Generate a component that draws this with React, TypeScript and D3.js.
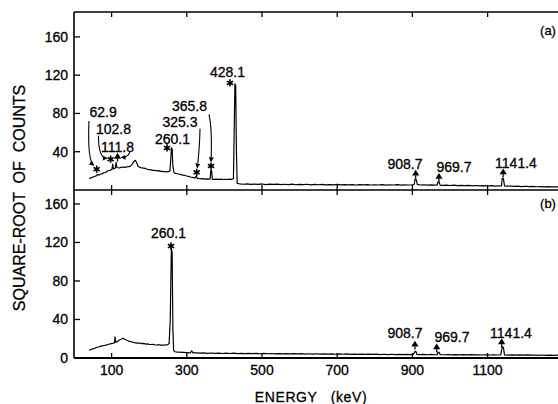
import React from "react";
import * as d3 from "d3";

const W = 558;
const H = 404;

// ---------- data ----------
const xTickValues = [100, 300, 500, 700, 900, 1100];
const yTickValuesA = [40, 80, 120, 160];
const yTickValuesB = [0, 40, 80, 120, 160];

// panel (a): [energy keV, sqrt(counts)]
const spectrumA: [number, number][] = [
  [40, 12], [45, 12.6], [50, 13.5], [55, 14.1], [60, 15], [63, 16.5], [66, 15.5], [70, 16.5], [75, 17.1], [80, 18],
  [85, 18.6], [90, 20], [95, 20.4], [98, 21], [101, 21.5], [103, 27], [105, 22], [108, 22.5], [110, 23], [112, 29],
  [114, 23.5], [120, 23], [125, 23.6], [130, 24], [135, 23.7], [140, 24.2], [145, 24.4], [150, 25], [155, 27], [160, 30],
  [163, 31], [166, 29], [170, 25], [175, 23.8], [180, 23], [185, 22.8], [190, 22.5], [195, 21.6], [200, 21.2], [205, 21],
  [210, 20.5], [215, 20.6], [220, 20], [225, 20.2], [230, 19.5], [235, 19.6], [240, 19], [245, 19.3], [250, 19], [255, 20],
  [257, 30], [259, 44], [261, 43], [263, 25], [266, 18], [270, 17.4], [275, 17], [280, 16.5], [285, 16], [290, 15.5],
  [295, 15.2], [300, 14.6], [305, 14.2], [310, 13.6], [315, 13.2], [318, 13], [322, 12.5], [325, 14.5], [328, 12.2], [332, 12],
  [338, 11.7], [345, 11.8], [350, 11.4], [355, 11.6], [360, 11.3], [362, 11.5], [364, 21], [366, 20], [368, 11.3], [372, 11.2],
  [378, 11.4], [384, 11.1], [390, 11.3], [396, 11], [402, 11.2], [408, 11], [414, 11.3], [420, 11.2], [424, 12], [426, 60],
  [428, 111], [430, 109], [432, 40], [434, 7], [440, 6.5], [450, 6.0], [460, 6.4], [470, 5.8], [480, 6.2], [490, 5.9],
  [500, 6.3], [510, 5.7], [520, 6.1], [530, 5.8], [540, 6.2], [550, 5.6], [560, 6.0], [570, 5.7], [580, 6.1], [590, 5.5],
  [600, 5.9], [610, 5.6], [620, 6.0], [630, 5.4], [640, 5.8], [650, 5.5], [660, 5.9], [670, 5.3], [680, 5.7], [690, 5.4],
  [700, 5.8], [710, 5.3], [720, 5.7], [730, 5.4], [740, 5.6], [750, 5.2], [760, 5.6], [770, 5.3], [780, 5.7], [790, 5.2],
  [800, 5.5], [810, 5.2], [820, 5.6], [830, 5.1], [840, 5.5], [850, 5.2], [860, 5.6], [870, 5.1], [880, 5.4], [890, 5.2],
  [900, 5.4], [905, 6.0], [907, 11.5], [910, 11.0], [913, 5.8], [920, 5.2], [930, 5.5], [940, 5.0], [950, 5.3], [960, 5.0],
  [966, 5.2], [968, 8.5], [971, 8.0], [974, 5.0], [980, 4.8], [990, 5.1], [1000, 4.7], [1010, 5.0], [1020, 4.6], [1030, 4.9],
  [1040, 4.5], [1050, 4.8], [1060, 4.4], [1070, 4.7], [1080, 4.3], [1090, 4.6], [1100, 4.2], [1110, 4.5], [1120, 4.1], [1130, 4.4],
  [1137, 4.2], [1139, 12.5], [1142, 12.0], [1145, 4.3], [1150, 4.0], [1160, 4.2], [1170, 3.8], [1180, 4.0], [1190, 3.6], [1200, 3.9],
  [1210, 3.5], [1220, 3.8], [1230, 3.4], [1240, 3.6], [1250, 3.3], [1260, 3.5], [1270, 3.2], [1280, 3.4], [1290, 3.1], [1300, 3.3],
];

// panel (b)
const spectrumB: [number, number][] = [
  [40, 8], [45, 8.8], [50, 9.5], [55, 10.1], [60, 11], [65, 11.4], [70, 12], [75, 12.6], [80, 13], [85, 13.4],
  [90, 14], [95, 14.5], [100, 15], [105, 15.5], [108, 16], [109, 22], [111, 16.5], [115, 17], [120, 18.5], [125, 19.4],
  [128, 20], [131, 20.5], [135, 19.5], [140, 18.5], [145, 17.6], [150, 17], [155, 16.6], [160, 16], [165, 15.8], [170, 15.5],
  [175, 15.5], [180, 15], [185, 15.2], [190, 14.5], [195, 14.6], [200, 14.2], [205, 14], [210, 14.1], [215, 13.7], [220, 13.5],
  [225, 13.8], [230, 13.4], [235, 13.5], [240, 13.3], [244, 13.6], [248, 13.5], [253, 15], [256, 40], [259, 114], [261, 110],
  [263, 30], [265, 8], [268, 6.5], [275, 6.2], [280, 6.0], [290, 5.8], [300, 5.6], [310, 5.4], [313, 7.5], [316, 5.4],
  [325, 5.3], [335, 5.0], [345, 5.3], [355, 4.9], [365, 5.2], [375, 4.8], [385, 5.1], [395, 4.7], [405, 5.0], [415, 4.7],
  [425, 5.0], [435, 4.6], [445, 4.9], [455, 4.5], [465, 4.8], [475, 4.5], [485, 4.8], [495, 4.4], [505, 4.8], [515, 4.4],
  [525, 4.7], [535, 4.3], [545, 4.6], [555, 4.3], [565, 4.6], [575, 4.2], [585, 4.5], [595, 4.2], [605, 4.5], [615, 4.1],
  [625, 4.4], [635, 4.1], [645, 4.4], [655, 4.0], [665, 4.3], [675, 4.0], [685, 4.3], [695, 3.9], [705, 4.2], [715, 3.9],
  [725, 4.2], [735, 3.8], [745, 4.1], [755, 3.8], [765, 4.1], [775, 3.7], [785, 4.0], [795, 3.7], [805, 4.0], [815, 3.6],
  [825, 3.9], [835, 3.6], [845, 3.9], [855, 3.5], [865, 3.8], [875, 3.5], [885, 3.8], [895, 3.5], [903, 3.8], [906, 6.5],
  [909, 6.8], [912, 3.8], [920, 3.5], [930, 3.7], [940, 3.4], [950, 3.7], [960, 3.4], [966, 3.6], [968, 6.0], [971, 5.8],
  [974, 3.5], [985, 3.4], [995, 3.6], [1005, 3.3], [1015, 3.6], [1025, 3.3], [1035, 3.5], [1045, 3.2], [1055, 3.5], [1065, 3.2],
  [1075, 3.4], [1085, 3.1], [1095, 3.4], [1105, 3.1], [1115, 3.3], [1125, 3.1], [1135, 3.3], [1139, 11.5], [1142, 11], [1145, 3.3],
  [1155, 3.0], [1165, 3.3], [1175, 3.0], [1185, 3.2], [1195, 2.9], [1205, 3.2], [1215, 2.9], [1225, 3.1], [1235, 2.8], [1245, 3.1],
  [1255, 2.8], [1265, 3.0], [1275, 2.7], [1285, 3.0], [1300, 2.8],
];

// labelled peaks
const peakEnergiesA = [62.9, 102.8, 111.8, 260.1, 325.3, 365.8, 428.1, 908.7, 969.7, 1141.4];
const peakLabelsA = ["62.9", "102.8", "111.8", "260.1", "325.3", "365.8", "428.1", "908.7", "969.7", "1141.4"];
const peakKindsA = ["star", "star", "tri", "star", "star", "star", "star", "tri", "tri", "tri"];

const peakEnergiesB = [260.1, 908.7, 969.7, 1141.4];
const peakLabelsB = ["260.1", "908.7", "969.7", "1141.4"];
const peakKindsB = ["star", "tri", "tri", "tri"];

// ---------- layout (pixel offsets relative to peak top) ----------
type Lay = { m: [number, number]; t: [number, number]; lead?: [number, number, number, number, number, number] };
const layoutA: Lay[] = [
  { m: [-1, -5], t: [5.4, -57.2], lead: [-8.7, -53.2, -10.2, -14, -4.2, -9.2] },
  { m: [-2, -5], t: [0.9, -30.2], lead: [-14.2, -28.5, -14.2, -6.5, -6, -5.8] },
  { m: [1.5, -5.2], t: [1.5, -10.2], lead: [14, -11.2, 13, -5.2, 5.5, -4.8] },
  { m: [-4.8, 0], t: [0.7, -3.9] },
  { m: [0.4, -3.8], t: [-16.3, -49.3], lead: [3.7, -47.3, 3.2, -26.1, 1.0, -8.6] },
  { m: [-0.5, -3.9], t: [-22, -58.6], lead: [-2.5, -55.6, 0.8, -39.9, -0.5, -8.6] },
  { m: [-5, -0.8], t: [-7.5, -6.8] },
  { m: [0, -5], t: [-10.7, -10] },
  { m: [0.4, -4.6], t: [15.4, -9.9] },
  { m: [0, -5.3], t: [12.8, -10.5] },
];
const layoutB: Lay[] = [
  { m: [-0.8, -2.2], t: [-3.3, -10.2] },
  { m: [-0.7, -6.5], t: [-10.7, -13] },
  { m: [-1.9, -4.5], t: [13.4, -10.7] },
  { m: [-1.5, -4.2], t: [7.8, -9.4] },
];

const FONT = "'Liberation Sans', Arial, sans-serif";
const TEXT_STROKE = { stroke: "#000", strokeWidth: 0.3 };

const x = d3.scaleLinear().domain([0, 1300]).range([74, 74 + 1300 * 0.376]);
const yA = d3.scaleLinear().domain([0, 186]).range([190, 12]);
const yB = d3.scaleLinear().domain([0, 174.5]).range([358, 190]);

function peakTop(spec: [number, number][], e: number) {
  const near = spec.filter((d) => Math.abs(d[0] - e) <= 4);
  return d3.max(near, (d) => d[1]) ?? 0;
}

function Star({ cx, cy }: { cx: number; cy: number }) {
  const r = 3.6;
  const segs = [0, 60, 120].map((a) => {
    const rad = (a * Math.PI) / 180 + Math.PI / 2;
    return `M${cx - r * Math.cos(rad)},${cy - r * Math.sin(rad)}L${cx + r * Math.cos(rad)},${cy + r * Math.sin(rad)}`;
  });
  return <path d={segs.join("")} stroke="#000" strokeWidth={1.6} fill="none" />;
}

function Tri({ cx, cy }: { cx: number; cy: number }) {
  return (
    <g>
      <path d={`M${cx},${cy - 4.2}L${cx + 3.6},${cy + 1.6}L${cx - 3.6},${cy + 1.6}Z`} fill="#000" />
      <path d={`M${cx},${cy + 1.6}L${cx},${cy + 4.5}`} stroke="#000" strokeWidth={1.3} />
    </g>
  );
}

function Panel({
  spec, y, energies, labels, kinds, layout, yTicks, tag, tagY, top, bottom,
}: {
  spec: [number, number][]; y: d3.ScaleLinear<number, number>; energies: number[]; labels: string[]; kinds: string[];
  layout: Lay[]; yTicks: number[]; tag: string; tagY: number; top: number; bottom: number;
}) {
  const line = d3.line<[number, number]>().x((d) => x(d[0])).y((d) => y(d[1])).curve(d3.curveLinear);
  const x0 = x(0);
  return (
    <g>
      <path d={line(spec) ?? ""} fill="none" stroke="#000" strokeWidth={1.2} strokeLinejoin="round" />
      {yTicks.map((t) => (
        <g key={t}>
          <line x1={x0} x2={x0 + 6} y1={y(t)} y2={y(t)} stroke="#000" strokeWidth={1.3} />
          <text x={68} y={y(t) + 5} textAnchor="end" fontFamily={FONT} fontSize={14} {...TEXT_STROKE}>{t}</text>
        </g>
      ))}
      {xTickValues.map((t) => (
        <g key={t}>
          <line x1={x(t)} x2={x(t)} y1={top} y2={top + 5} stroke="#000" strokeWidth={1.3} />
          <line x1={x(t)} x2={x(t)} y1={bottom} y2={bottom - 5} stroke="#000" strokeWidth={1.3} />
        </g>
      ))}
      {energies.map((e, i) => {
        const px = x(e);
        const py = y(peakTop(spec, e));
        const L = layout[i];
        const mx = px + L.m[0];
        const my = py + L.m[1];
        return (
          <g key={i}>
            {kinds[i] === "star" ? <Star cx={mx} cy={my} /> : <Tri cx={mx} cy={my} />}
            <text x={px + L.t[0]} y={py + L.t[1]} textAnchor="middle" fontFamily={FONT} fontSize={14} {...TEXT_STROKE}>{labels[i]}</text>
            {L.lead && (
              <path
                d={`M${px + L.lead[0]},${py + L.lead[1]}Q${px + L.lead[2]},${py + L.lead[3]} ${px + L.lead[4]},${py + L.lead[5]}`}
                fill="none" stroke="#000" strokeWidth={1.1} markerEnd="url(#arrow)"
              />
            )}
          </g>
        );
      })}
      <text x={548} y={tagY} textAnchor="middle" fontFamily={FONT} fontSize={13} {...TEXT_STROKE}>{tag}</text>
    </g>
  );
}

export default function App() {
  return (
    <svg width={W} height={H} style={{ position: "absolute", left: 0, top: 0, background: "#fff" }}>
      <defs>
        <marker id="arrow" viewBox="0 0 10 10" refX="8" refY="5" markerWidth="5" markerHeight="5" orient="auto" markerUnits="userSpaceOnUse">
          <path d="M0,0L10,5L0,10Z" fill="#000" />
        </marker>
      </defs>
      <rect x={0} y={0} width={W} height={H} fill="#fff" />
      {/* frame */}
      <line x1={x(0)} x2={x(1300)} y1={12} y2={12} stroke="#000" strokeWidth={1.6} />
      <line x1={x(0)} x2={x(1300)} y1={190} y2={190} stroke="#000" strokeWidth={1.6} />
      <line x1={x(0)} x2={x(1300)} y1={358} y2={358} stroke="#000" strokeWidth={2} />
      <line x1={x(0)} x2={x(0)} y1={12} y2={358} stroke="#000" strokeWidth={1.6} />
      <line x1={x(1300)} x2={x(1300)} y1={12} y2={358} stroke="#000" strokeWidth={1.6} />

      <Panel spec={spectrumA} y={yA} energies={peakEnergiesA} labels={peakLabelsA} kinds={peakKindsA}
        layout={layoutA} yTicks={yTickValuesA} tag="(a)" tagY={35} top={12} bottom={190} />
      <Panel spec={spectrumB} y={yB} energies={peakEnergiesB} labels={peakLabelsB} kinds={peakKindsB}
        layout={layoutB} yTicks={yTickValuesB} tag="(b)" tagY={208} top={190} bottom={358} />

      {xTickValues.map((t) => (
        <text key={t} x={x(t)} y={375} textAnchor="middle" fontFamily={FONT} fontSize={14} {...TEXT_STROKE}>{t}</text>
      ))}
      <text x={311} y={402} textAnchor="middle" fontFamily={FONT} fontSize={14} letterSpacing={0.6} style={{ whiteSpace: "pre" }} {...TEXT_STROKE}>
        {"ENERGY   (keV)"}
      </text>
      <text transform="translate(25,198) rotate(-90)" textAnchor="middle" fontFamily={FONT} fontSize={16} style={{ whiteSpace: "pre" }} {...TEXT_STROKE}>
        {"SQUARE-ROOT  OF  COUNTS"}
      </text>
    </svg>
  );
}
